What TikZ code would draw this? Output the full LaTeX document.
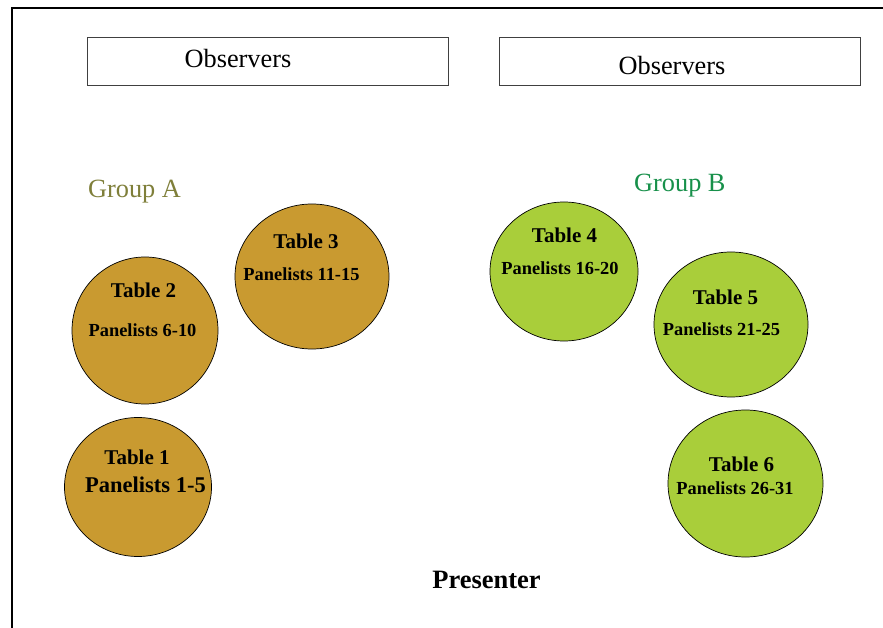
\documentclass[tikz,border=0pt]{standalone}
\usepackage{fontspec}
\setmainfont{Liberation Serif}
\usetikzlibrary{shapes.geometric}
\definecolor{gold}{HTML}{C99A30}
\definecolor{lime}{HTML}{A9CE3A}
\definecolor{grpA}{HTML}{7F7F3A}
\definecolor{grpB}{HTML}{17904A}
\tikzset{
  obsbox/.style={draw=black!75, line width=0.8pt, fill=white},
  tablegold/.style={ellipse, draw=black, line width=0.7pt, fill=gold, inner sep=0pt},
  tablelime/.style={ellipse, draw=black, line width=0.7pt, fill=lime, inner sep=0pt},
  ttl/.style={anchor=base, inner sep=0pt, font=\fontsize{21}{24}\selectfont\bfseries},
  pan/.style={anchor=base, inner sep=0pt, font=\fontsize{18.4}{22}\selectfont\bfseries},
  big/.style={anchor=base, inner sep=0pt, font=\fontsize{26.3}{30}\selectfont},
}
\begin{document}
\begin{tikzpicture}[x=1pt,y=-1pt]
\clip (0,0) rectangle (883,628);
\fill[white] (0,0) rectangle (883,628);
% frame
\draw[line width=2pt] (12,640) -- (12,8) -- (900,8);
% observers
\node[obsbox, minimum width=361pt, minimum height=48pt] (obs1) at (267.5,61) {};
\node[obsbox, minimum width=361pt, minimum height=48pt] (obs2) at (679.5,61) {};
\node[big] (obs1t) at (238,68) {Observers};
\node[big] (obs2t) at (672,75) {Observers};
% groups
\node[big, anchor=base west, text=grpA] (ga) at (88,198) {Group A};
\node[big, anchor=base west, text=grpB] (gb) at (634,192) {Group B};
% tables
\node[tablegold, minimum width=154pt, minimum height=145pt] (t3) at (312,276.5) {};
\node[tablegold, minimum width=146pt, minimum height=147pt] (t2) at (145,330.5) {};
\node[tablegold, minimum width=147pt, minimum height=139pt] (t1) at (138,487) {};
\node[tablelime, minimum width=148pt, minimum height=139pt] (t4) at (564,271.5) {};
\node[tablelime, minimum width=154pt, minimum height=145pt] (t5) at (731,324.5) {};
\node[tablelime, minimum width=155pt, minimum height=147pt] (t6) at (745.5,483.5) {};
% labels
\node[ttl] (t3a) at (306,249) {Table 3};
\node[pan] (t3b) at (301.5,280) {Panelists 11-15};
\node[ttl] (t2a) at (143.5,298) {Table 2};
\node[pan] (t2b) at (142.5,336) {Panelists 6-10};
\node[ttl] (t1a) at (137,464) {Table 1};
\node[ttl, font=\fontsize{22.5}{26}\selectfont\bfseries] (t1b) at (145.5,492) {Panelists 1-5};
\node[ttl] (t4a) at (564.5,243) {Table 4};
\node[pan] (t4b) at (560,274) {Panelists 16-20};
\node[ttl] (t5a) at (725.5,305) {Table 5};
\node[pan] (t5b) at (721.5,335) {Panelists 21-25};
\node[ttl] (t6a) at (741.5,471) {Table 6};
\node[pan] (t6b) at (735,494) {Panelists 26-31};
% presenter
\node[big, font=\fontsize{26.5}{30}\selectfont\bfseries] (pres) at (486.5,588) {Presenter};
\end{tikzpicture}
\end{document}
